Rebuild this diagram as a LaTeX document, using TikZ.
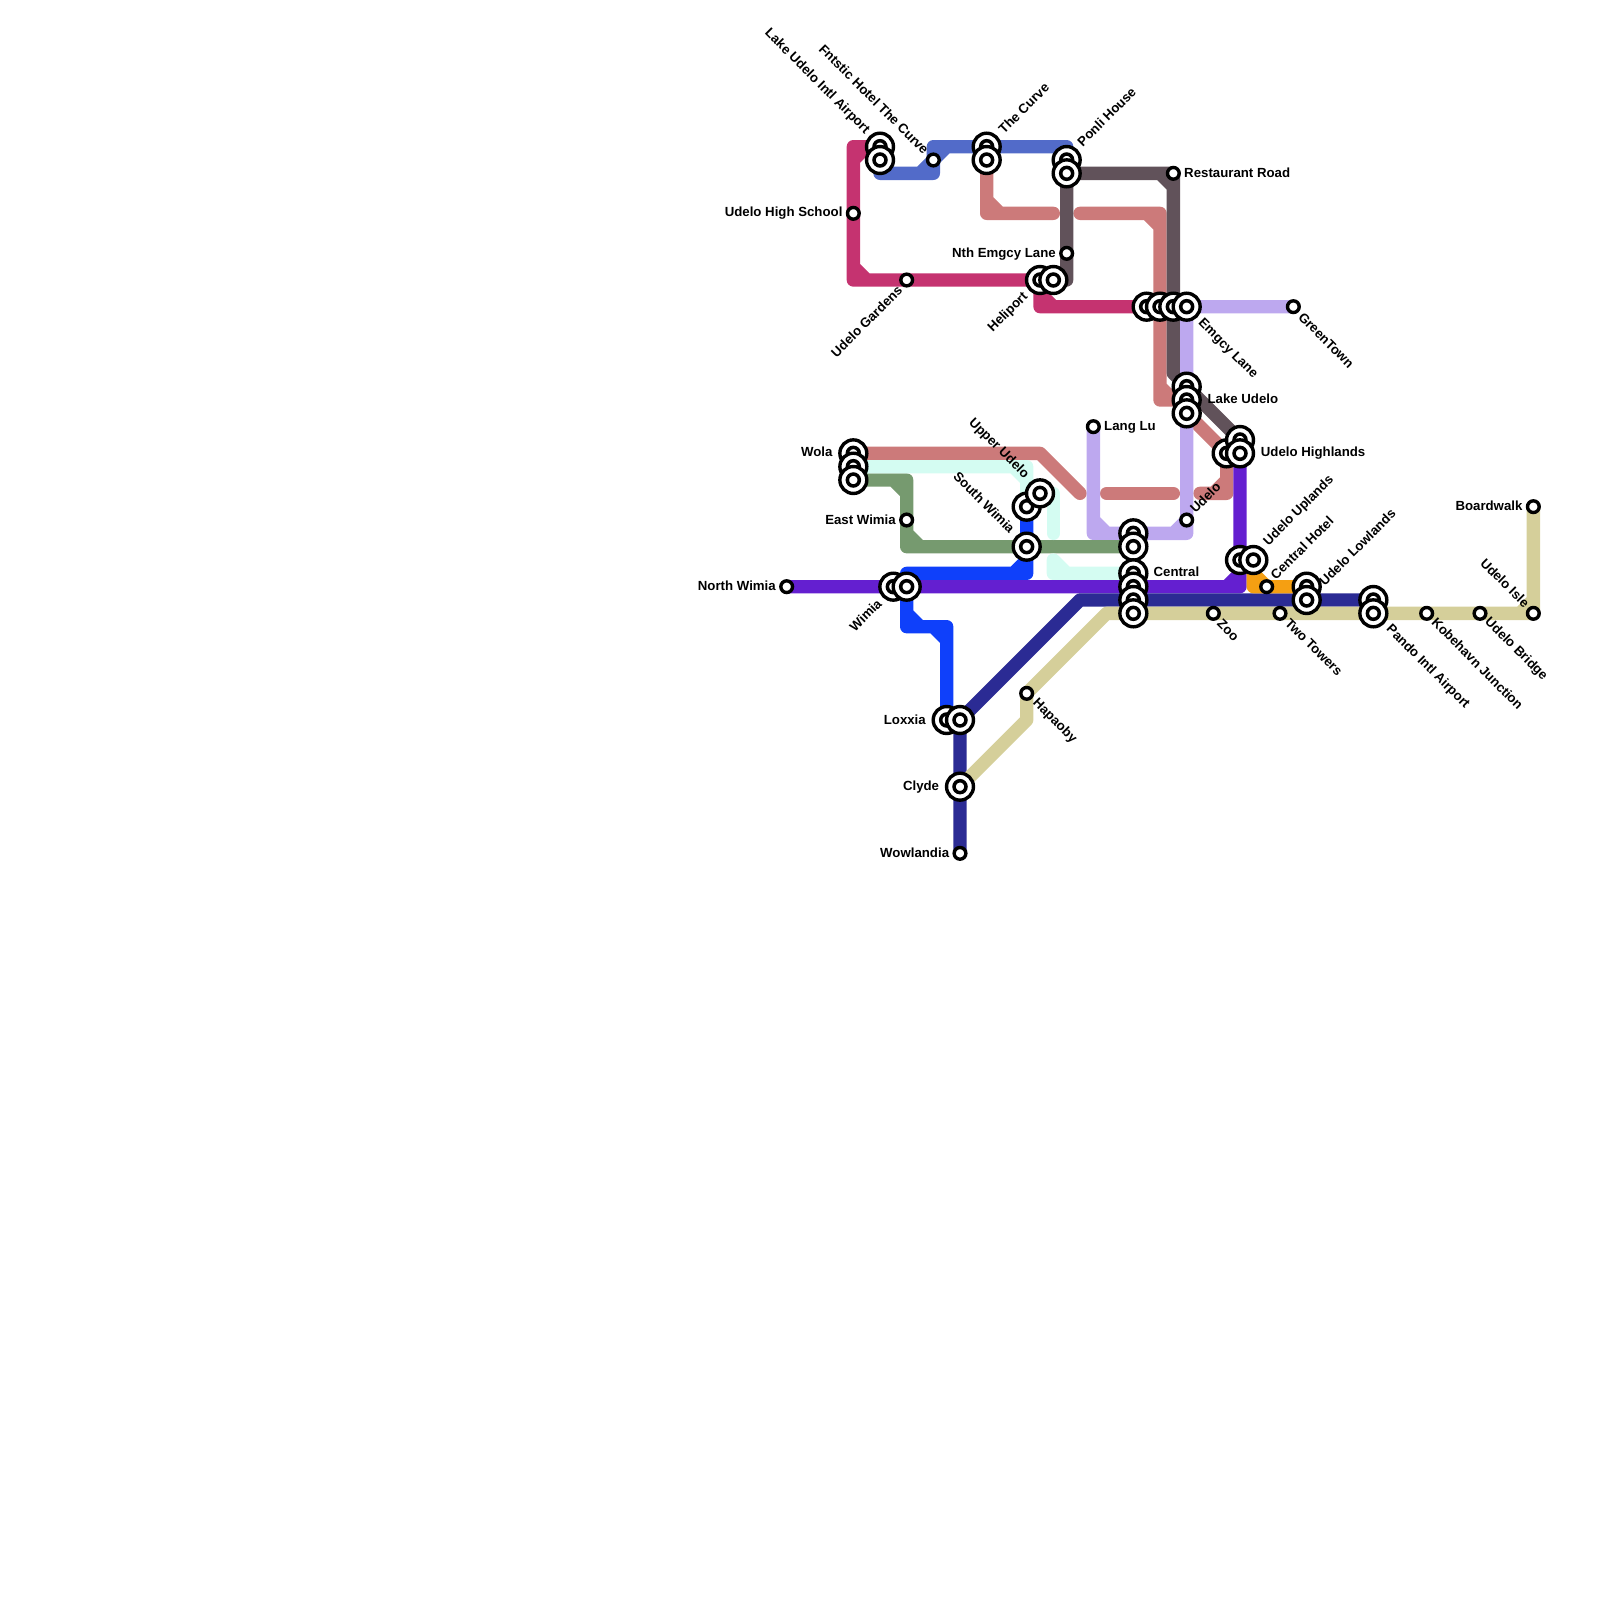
\documentclass[tikz,border=0pt]{standalone}
\usepackage{fontspec}
\setmainfont{Liberation Sans}
\usetikzlibrary{backgrounds}
\definecolor{pinkln}{HTML}{C53370}
\definecolor{slateln}{HTML}{526BC9}
\definecolor{roseln}{HTML}{CC7A7A}
\definecolor{darkln}{HTML}{61525A}
\definecolor{lavln}{HTML}{BDA8EF}
\definecolor{greenln}{HTML}{769A6F}
\definecolor{mintln}{HTML}{D4FCF2}
\definecolor{blueln}{HTML}{0F40FA}
\definecolor{purpln}{HTML}{641FD0}
\definecolor{navyln}{HTML}{2B2B94}
\definecolor{tanln}{HTML}{D5CF9A}
\definecolor{orangeln}{HTML}{F59F12}
\tikzset{
  metro/.style={line width=0.4cm, line join=round, line cap=round},
  hub/.style={circle, draw=black, fill=white, line width=2.9pt, minimum size=23pt, inner sep=0pt, outer sep=0pt,
    path picture={\draw[black, line width=3pt] (path picture bounding box.center) circle (5.1pt);}},
  halt/.style={circle, draw=black, fill=white, line width=2.9pt, minimum size=10pt, inner sep=0pt, outer sep=0pt},
  lbl/.style={font=\fontsize{11.3pt}{12pt}\selectfont\bfseries, inner sep=0pt},
  lblw/.style={lbl, anchor=east},
  lble/.style={lbl, anchor=west},
  lblne/.style={lbl, anchor=west, rotate=45},
  lblse/.style={lbl, anchor=west, rotate=-45},
  lblnw/.style={lbl, anchor=east, rotate=-45},
  lblsw/.style={lbl, anchor=east, rotate=45}
}
\begin{document}
\begin{tikzpicture}[x=0.4cm, y=-0.4cm]
    \useasboundingbox (0,0) rectangle (120,120);

    % 1. Stations
    \node[hub] (airportA) at (66,11) {};
    \node[hub] (airportB) at (66,12) {};
    \node[halt] (fntstic) at (70,12) {};
    \node[hub] (curveA) at (74,11) {};
    \node[hub] (curveB) at (74,12) {};
    \node[hub] (ponliA) at (80,12) {};
    \node[hub] (ponliB) at (80,13) {};
    \node[halt] (restaurant) at (88,13) {};
    \node[halt] (highschool) at (64,16) {};
    \node[halt] (nthemgcy) at (80,19) {};
    \node[halt] (gardens) at (68,21) {};
    \node[hub] (heliportA) at (78,21) {};
    \node[hub] (heliportB) at (79,21) {};
    \node[hub] (emgcyA) at (86,23) {};
    \node[hub] (emgcyB) at (87,23) {};
    \node[hub] (emgcyC) at (88,23) {};
    \node[hub] (emgcyD) at (89,23) {};
    \node[halt] (greentown) at (97,23) {};
    \node[hub] (lakeA) at (89,29) {};
    \node[hub] (lakeB) at (89,30) {};
    \node[hub] (lakeC) at (89,31) {};
    \node[halt] (langlu) at (82,32) {};
    \node[hub] (highlandsC) at (92,34) {};
    \node[hub] (highlandsA) at (93,33) {};
    \node[hub] (highlandsB) at (93,34) {};
    \node[hub] (wolaA) at (64,34) {};
    \node[hub] (wolaB) at (64,35) {};
    \node[hub] (wolaC) at (64,36) {};
    \node[hub] (southA) at (77,38) {};
    \node[hub] (upper) at (78,37) {};
    \node[halt] (eastwimia) at (68,39) {};
    \node[halt] (udelo) at (89,39) {};
    \node[hub] (centralA) at (85,40) {};
    \node[hub] (centralB) at (85,41) {};
    \node[hub] (southB) at (77,41) {};
    \node[hub] (uplandsA) at (93,42) {};
    \node[hub] (uplandsB) at (94,42) {};
    \node[hub] (centralC) at (85,43) {};
    \node[hub] (centralD) at (85,44) {};
    \node[hub] (centralE) at (85,45) {};
    \node[hub] (centralF) at (85,46) {};
    \node[halt] (northwimia) at (59,44) {};
    \node[hub] (wimiaA) at (67,44) {};
    \node[hub] (wimiaB) at (68,44) {};
    \node[halt] (hotel) at (95,44) {};
    \node[hub] (lowlandsA) at (98,44) {};
    \node[hub] (lowlandsB) at (98,45) {};
    \node[hub] (pandoA) at (103,45) {};
    \node[hub] (pandoB) at (103,46) {};
    \node[halt] (zoo) at (91,46) {};
    \node[halt] (towers) at (96,46) {};
    \node[halt] (kobehavn) at (107,46) {};
    \node[halt] (bridge) at (111,46) {};
    \node[halt] (isle) at (115,46) {};
    \node[halt] (boardwalk) at (115,38) {};
    \node[halt] (hapaoby) at (77,52) {};
    \node[hub] (loxxiaA) at (71,54) {};
    \node[hub] (loxxiaB) at (72,54) {};
    \node[hub] (clyde) at (72,59) {};
    \node[halt] (wowlandia) at (72,64) {};

    % 2. Bends and free ends
    \coordinate (pkTop) at (64,11);
    \coordinate (pkBot) at (64,21);
    \coordinate (pkLow) at (78,23);
    \coordinate (slA) at (66,13);
    \coordinate (slB) at (70,13);
    \coordinate (slC) at (70,11);
    \coordinate (slD) at (80,11);
    \coordinate (rsA) at (74,16);
    \coordinate (rsB) at (79,16);
    \coordinate (rsC) at (81,16);
    \coordinate (rsD) at (87,16);
    \coordinate (rsE) at (87,30);
    \coordinate (rsF) at (78,34);
    \coordinate (rsG) at (81,37);
    \coordinate (rsH) at (83,37);
    \coordinate (rsI) at (88,37);
    \coordinate (rsJ) at (90,37);
    \coordinate (rsK) at (92,37);
    \coordinate (dkA) at (88,28);
    \coordinate (dkB) at (80,21);
    \coordinate (lvA) at (82,40);
    \coordinate (lvB) at (89,40);
    \coordinate (grA) at (68,36);
    \coordinate (grB) at (68,41);
    \coordinate (mtA) at (77,35);
    \coordinate (mtB) at (79,37);
    \coordinate (mtC) at (79,40);
    \coordinate (mtD) at (79,42);
    \coordinate (mtE) at (79,43);
    \coordinate (blA) at (77,43);
    \coordinate (blB) at (68,43);
    \coordinate (blC) at (68,47);
    \coordinate (blD) at (71,47);
    \coordinate (puA) at (93,44);
    \coordinate (nvA) at (81,45);
    \coordinate (tnA) at (77,54);
    \coordinate (tnB) at (83,46);
    \coordinate (orA) at (94,44);

    % 3. Lines
    \begin{scope}[on background layer]
    \draw[metro, pinkln] (airportA.center) -- (pkTop) -- (pkBot) -- (heliportA.center) -- (pkLow) -- (emgcyA.center)
        (pkTop) ++(0,1) -- ++(1,-1) (pkBot) ++(0,-1) -- ++(1,1) (pkLow) ++(0,-1) -- ++(1,1);
    \draw[metro, slateln] (airportB.center) -- (slA) -- (slB) -- (slC) -- (slD) -- (ponliA.center)
        (slB) ++(-1,0) -- ++(1,-1) -- ++(1,-1);
    \draw[metro, roseln] (curveB.center) -- (rsA) -- (rsB) (rsA) ++(0,-1) -- ++(1,1);
    \draw[metro, roseln] (rsC) -- (rsD) -- (rsE) -- (lakeB.center) (rsD) ++(-1,0) -- ++(1,1) (rsE) ++(0,-1) -- ++(1,1);
    \draw[metro, roseln] (wolaA.center) -- (rsF) -- (rsG);
    \draw[metro, roseln] (rsH) -- (rsI);
    \draw[metro, roseln] (lakeC.center) -- (highlandsC.center) -- (rsK) -- (rsJ) (rsK) ++(0,-1) -- ++(-1,1);
    \draw[metro, darkln] (heliportB.center) -- (dkB) -- (ponliB.center) -- (restaurant.center) -- (dkA) -- (highlandsA.center)
        (restaurant.center) ++(-1,0) -- ++(1,1);
    \draw[metro, lavln] (greentown.center) -- (emgcyD.center) -- (udelo.center) -- (lvB) -- (lvA) -- (langlu.center)
        (lvA) ++(0,-1) -- ++(1,1) (lvB) ++(0,-1) -- ++(-1,1);
    \draw[metro, greenln] (wolaC.center) -- (grA) -- (grB) -- (centralB.center)
        (grA) ++(-1,0) -- ++(1,1) (grB) ++(0,-1) -- ++(1,1);
    \draw[metro, mintln] (wolaB.center) -- (mtA) -- (southA.center) (mtA) ++(-1,0) -- ++(1,1);
    \draw[metro, mintln] (upper.center) -- (mtB) -- (mtC);
    \draw[metro, mintln] (mtD) -- (mtE) -- (centralC.center) (mtE) ++(0,-1) -- ++(1,1);
    \draw[metro, blueln] (southA.center) -- (blA) -- (blB) -- (blC) -- (blD) -- (loxxiaA.center)
        (blA) ++(-1,0) -- ++(1,-1) (blC) ++(0,-1) -- ++(1,1) (blD) ++(-1,0) -- ++(1,1);
    \draw[metro, purpln] (northwimia.center) -- (puA) -- (highlandsB.center) (puA) ++(-1,0) -- ++(1,-1);
    \draw[metro, navyln] (wowlandia.center) -- (loxxiaB.center) -- (nvA) -- (pandoA.center);
    \draw[metro, tanln] (clyde.center) -- (tnA) -- (hapaoby.center) -- (tnB) -- (isle.center) -- (boardwalk.center)
        (isle.center) ++(-1,0) -- ++(1,-1);
    \draw[metro, orangeln] (uplandsB.center) -- (orA) -- (lowlandsA.center) (orA) ++(0,-1) -- ++(1,1);
    \end{scope}

    % 4. Labels
    \node[lblnw] (lAirport) at (65.05,9.9) {Lake Udelo Intl Airport};
    \node[lblnw] (lFntstic) at (69.5,11.4) {Fntstic Hotel The Curve};
    \node[lblne] (lCurve) at (75.05,9.85) {The Curve};
    \node[lblne] (lPonli) at (80.95,10.8) {Ponli House};
    \node[lble] (lRestaurant) at (88.8,12.95) {Restaurant Road};
    \node[lblw] (lSchool) at (63.2,16) {Udelo High School};
    \node[lblw] (lNth) at (79.2,19.05) {Nth Emgcy Lane};
    \node[lblsw] (lGardens) at (67.5,21.6) {Udelo Gardens};
    \node[lblsw] (lHeliport) at (76.95,22.1) {Heliport};
    \node[lblse] (lEmgcy) at (90,24.1) {Emgcy Lane};
    \node[lblse] (lGreen) at (97.55,23.6) {GreenTown};
    \node[lble] (lLake) at (90.55,29.9) {Lake Udelo};
    \node[lble] (lLang) at (82.8,32.05) {Lang Lu};
    \node[lble] (lHighlands) at (94.55,34) {Udelo Highlands};
    \node[lblw] (lWola) at (62.45,33.9) {Wola};
    \node[lblnw] (lUpper) at (77,35.75) {Upper Udelo};
    \node[lblnw] (lSouth) at (75.95,39.8) {South Wimia};
    \node[lblw] (lEast) at (67.2,38.95) {East Wimia};
    \node[lblne] (lUdelo) at (89.4,38.3) {Udelo};
    \node[lblne] (lUplands) at (94.95,40.8) {Udelo Uplands};
    \node[lble] (lCentral) at (86.5,42.9) {Central};
    \node[lblne] (lHotel) at (95.45,43.3) {Central Hotel};
    \node[lblne] (lLowlands) at (99.1,43.75) {Udelo Lowlands};
    \node[lblw] (lNorth) at (58.2,43.95) {North Wimia};
    \node[lblsw] (lWimia) at (65.95,45.1) {Wimia};
    \node[lblse] (lZoo) at (91.45,46.6) {Zoo};
    \node[lblse] (lTowers) at (96.55,46.55) {Two Towers};
    \node[lblse] (lPando) at (104.1,47.05) {Pando Intl Airport};
    \node[lblse] (lKobehavn) at (107.55,46.5) {Kobehavn Junction};
    \node[lblse] (lBridge) at (111.5,46.5) {Udelo Bridge};
    \node[lblnw] (lIsle) at (114.55,45.4) {Udelo Isle};
    \node[lblw] (lBoardwalk) at (114.2,37.95) {Boardwalk};
    \node[lblse] (lHapaoby) at (77.6,52.6) {Hapaoby};
    \node[lblw] (lLoxxia) at (69.45,53.95) {Loxxia};
    \node[lblw] (lClyde) at (70.45,59.05) {Clyde};
    \node[lblw] (lWowlandia) at (71.2,63.95) {Wowlandia};
\end{tikzpicture}
\end{document}
